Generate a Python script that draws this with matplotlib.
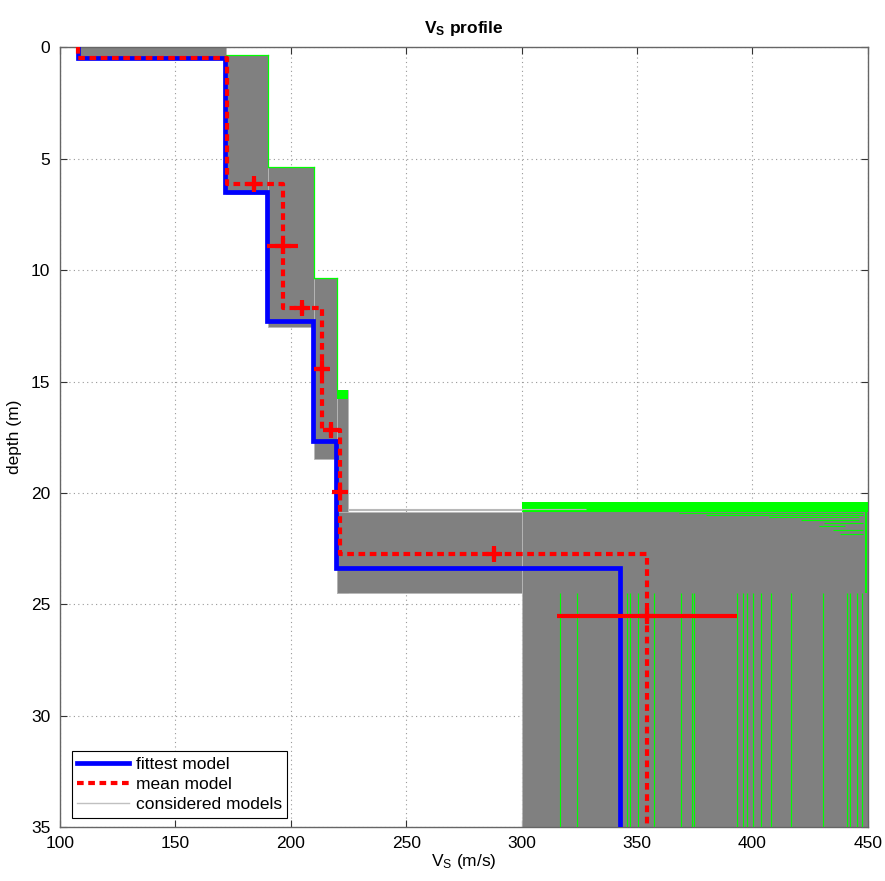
import numpy as np
import matplotlib
matplotlib.use("Agg")
import matplotlib.pyplot as plt
from matplotlib.lines import Line2D

plt.rcParams['font.family'] = ['Liberation Sans', 'DejaVu Sans']
plt.rcParams['mathtext.fontset'] = 'custom'
plt.rcParams['mathtext.rm'] = 'Liberation Sans'
plt.rcParams['mathtext.it'] = 'Liberation Sans'
plt.rcParams['mathtext.bf'] = 'Liberation Sans:bold'

# ---------------- data ----------------
# fittest model: layer Vs and layer bottoms (last layer is half-space)
fit_vs = [108, 171.5, 189.9, 209.8, 219.6, 342.6]
fit_bottom = [0.47, 6.48, 12.27, 17.66, 23.37]

# mean model
mean_vs = [108, 172.2, 196.5, 213.6, 221.5, 354.3]
mean_bottom = [0.5, 6.15, 11.71, 17.17, 22.73]

# mean-model uncertainties: Vs (horizontal bars at layer mid-depth)
vs_err_x = [196.5, 213.6, 221.5, 354.3]
vs_err_z = [8.93, 14.44, 19.95, 25.5]
vs_err = [6.8, 3.0, 0.8, 39.0]
# depth of interfaces (vertical bars)
z_err_x = [184.2, 205.0, 217.6, 287.9]
z_err_z = [6.15, 11.71, 17.17, 22.73]
z_err = [0.25, 0.25, 0.25, 0.25]

# envelope of the considered models (blocks): Vs range and depth range
blk_vs_lo = [108, 172, 190, 210, 220, 220, 300]
blk_vs_hi = [172, 190.3, 210, 220, 225, 300, 450]
blk_z_top = [0.0, 0.35, 5.37, 10.37, 15.37, 20.85, 20.4]
blk_z_bot = [0.5, 6.58, 12.53, 18.47, 24.5, 24.5, 35.0]

# green (best-misfit coloured) model edges
green_edge_vs = [172, 190.3, 210, 220]
green_edge_top = [0.0, 0.35, 5.37, 10.37]
green_edge_bot = [0.35, 5.37, 10.37, 15.37]
green_band_vs = [300, 450]
green_band_z = [20.4, 20.84]
green_block_vs = [220, 225]
green_block_z = [15.37, 15.8]
green_vlines = [316.8, 324.2, 345.6, 347.1, 350.6, 357.5, 369.1, 374.0, 374.7,
                393.5, 396.1, 397.6, 400.4, 403.6, 408.2, 416.6, 430.5, 440.9,
                442.3, 445.5, 447.4]
green_vline_z = [24.5, 35.0]
green_hl_z = [20.9, 20.98, 21.08, 21.2, 21.33, 21.46, 21.65, 21.85]
green_hl_x0 = [368, 380, 407, 421, 431, 429, 435, 438]
green_hl_x1 = [448, 448, 446, 446, 448, 440, 448, 448]
grey_hl_z = [20.71, 20.78]
grey_hl_x0 = [225, 225]
grey_hl_x1 = [328, 300]

xticks = [100, 150, 200, 250, 300, 350, 400, 450]
yticks = [0, 5, 10, 15, 20, 25, 30, 35]
zmax = 35


def step_xy(vs, bottoms, zmax):
    z_edges = [0.0] + list(bottoms) + [zmax]
    xs, zs = [], []
    for i, v in enumerate(vs):
        xs += [v, v]
        zs += [z_edges[i], z_edges[i + 1]]
    return np.array(xs), np.array(zs)


FS = 12.5

fig = plt.figure(figsize=(8.85, 8.81), dpi=100)
ax = fig.add_axes([0.0678, 0.061, 0.9127, 0.8853])

# considered models envelope
for lo, hi, t, b in zip(blk_vs_lo, blk_vs_hi, blk_z_top, blk_z_bot):
    ax.barh((t + b) / 2, hi - lo, height=b - t, left=lo, color='#808080',
            edgecolor='#b8b8b8', linewidth=0.6, zorder=2)

for v, t, b in zip(green_edge_vs, green_edge_top, green_edge_bot):
    if t > 0:
        ax.plot([v, v], [t, b], color='#00ff00', lw=0.9, zorder=3)
for i in range(1, len(green_edge_vs)):
    ax.plot([green_edge_vs[i - 1], green_edge_vs[i]], [green_edge_top[i]] * 2,
            color='#00ff00', lw=0.9, zorder=3)
ax.barh(sum(green_band_z) / 2, green_band_vs[1] - green_band_vs[0],
        height=green_band_z[1] - green_band_z[0], left=green_band_vs[0],
        color='#00ff00', zorder=3)
ax.barh(sum(green_block_z) / 2, green_block_vs[1] - green_block_vs[0],
        height=green_block_z[1] - green_block_z[0], left=green_block_vs[0],
        color='#00ff00', zorder=3)
ax.vlines(green_vlines, green_vline_z[0], green_vline_z[1], color='#00ff00',
          lw=0.8, zorder=3)
ax.vlines([449.2], 20.4, 24.5, color='#00ff00', lw=1.5, zorder=3)
ax.hlines(green_hl_z, green_hl_x0, green_hl_x1, color='#00ff00', lw=0.8, zorder=3)
ax.hlines(grey_hl_z, grey_hl_x0, grey_hl_x1, color='#b8b8b8', lw=0.8, zorder=3)

# fittest model
fx, fz = step_xy(fit_vs, fit_bottom, zmax)
ax.plot(fx, fz, color='#0000ff', lw=3.4, zorder=5, solid_joinstyle='miter')

# mean model
mx, mz = step_xy(mean_vs, mean_bottom, zmax)
ax.plot(mx, mz, color='#ff0000', lw=3.0, ls=(0, (1.6, 1.1)), zorder=6)

# uncertainties
ax.errorbar(vs_err_x, vs_err_z, xerr=vs_err, fmt='+', color='#ff0000',
            ms=12, mew=3.0, elinewidth=3.0, capsize=0, zorder=7)
ax.errorbar(z_err_x, z_err_z, yerr=z_err, fmt='+', color='#ff0000',
            ms=12, mew=3.0, elinewidth=3.0, capsize=0, zorder=7)

ax.set_xlim(xticks[0], xticks[-1])
ax.set_ylim(zmax, 0)
ax.set_xticks(xticks)
ax.set_yticks(yticks)
ax.tick_params(direction='in', top=True, right=True, length=5, width=0.8,
               labelsize=FS, colors='#333333', labelcolor='black')
ax.xaxis.set_tick_params(pad=6)
ax.yaxis.set_tick_params(pad=7)
ax.grid(True, ls=(0, (1, 3)), color='#999999', lw=0.8)
ax.set_axisbelow(True)
for s in ax.spines.values():
    s.set_color('#666666')
    s.set_linewidth(1.0)

ax.set_title(r'$\mathbf{V_S}$ profile', fontsize=FS, fontweight='bold', pad=10)
ax.set_xlabel(r'V$_\mathrm{S}$ (m/s)', fontsize=FS, labelpad=1)
ax.set_ylabel('depth (m)', fontsize=FS, labelpad=6)

handles = [Line2D([], [], color='#0000ff', lw=3.4),
           Line2D([], [], color='#ff0000', lw=3.0, ls=(0, (1.6, 1.1))),
           Line2D([], [], color='#c0c0c0', lw=1.0)]
leg = ax.legend(handles, ['fittest model', 'mean model', 'considered models'],
                loc='lower left', bbox_to_anchor=(0.01, 0.008), fontsize=FS,
                frameon=True, fancybox=False, framealpha=1, edgecolor='black',
                borderpad=0.3, labelspacing=0.3, handlelength=3.0,
                handletextpad=0.4, borderaxespad=0.2)
leg.get_frame().set_linewidth(0.8)

fig.savefig('out.png', dpi=100)
